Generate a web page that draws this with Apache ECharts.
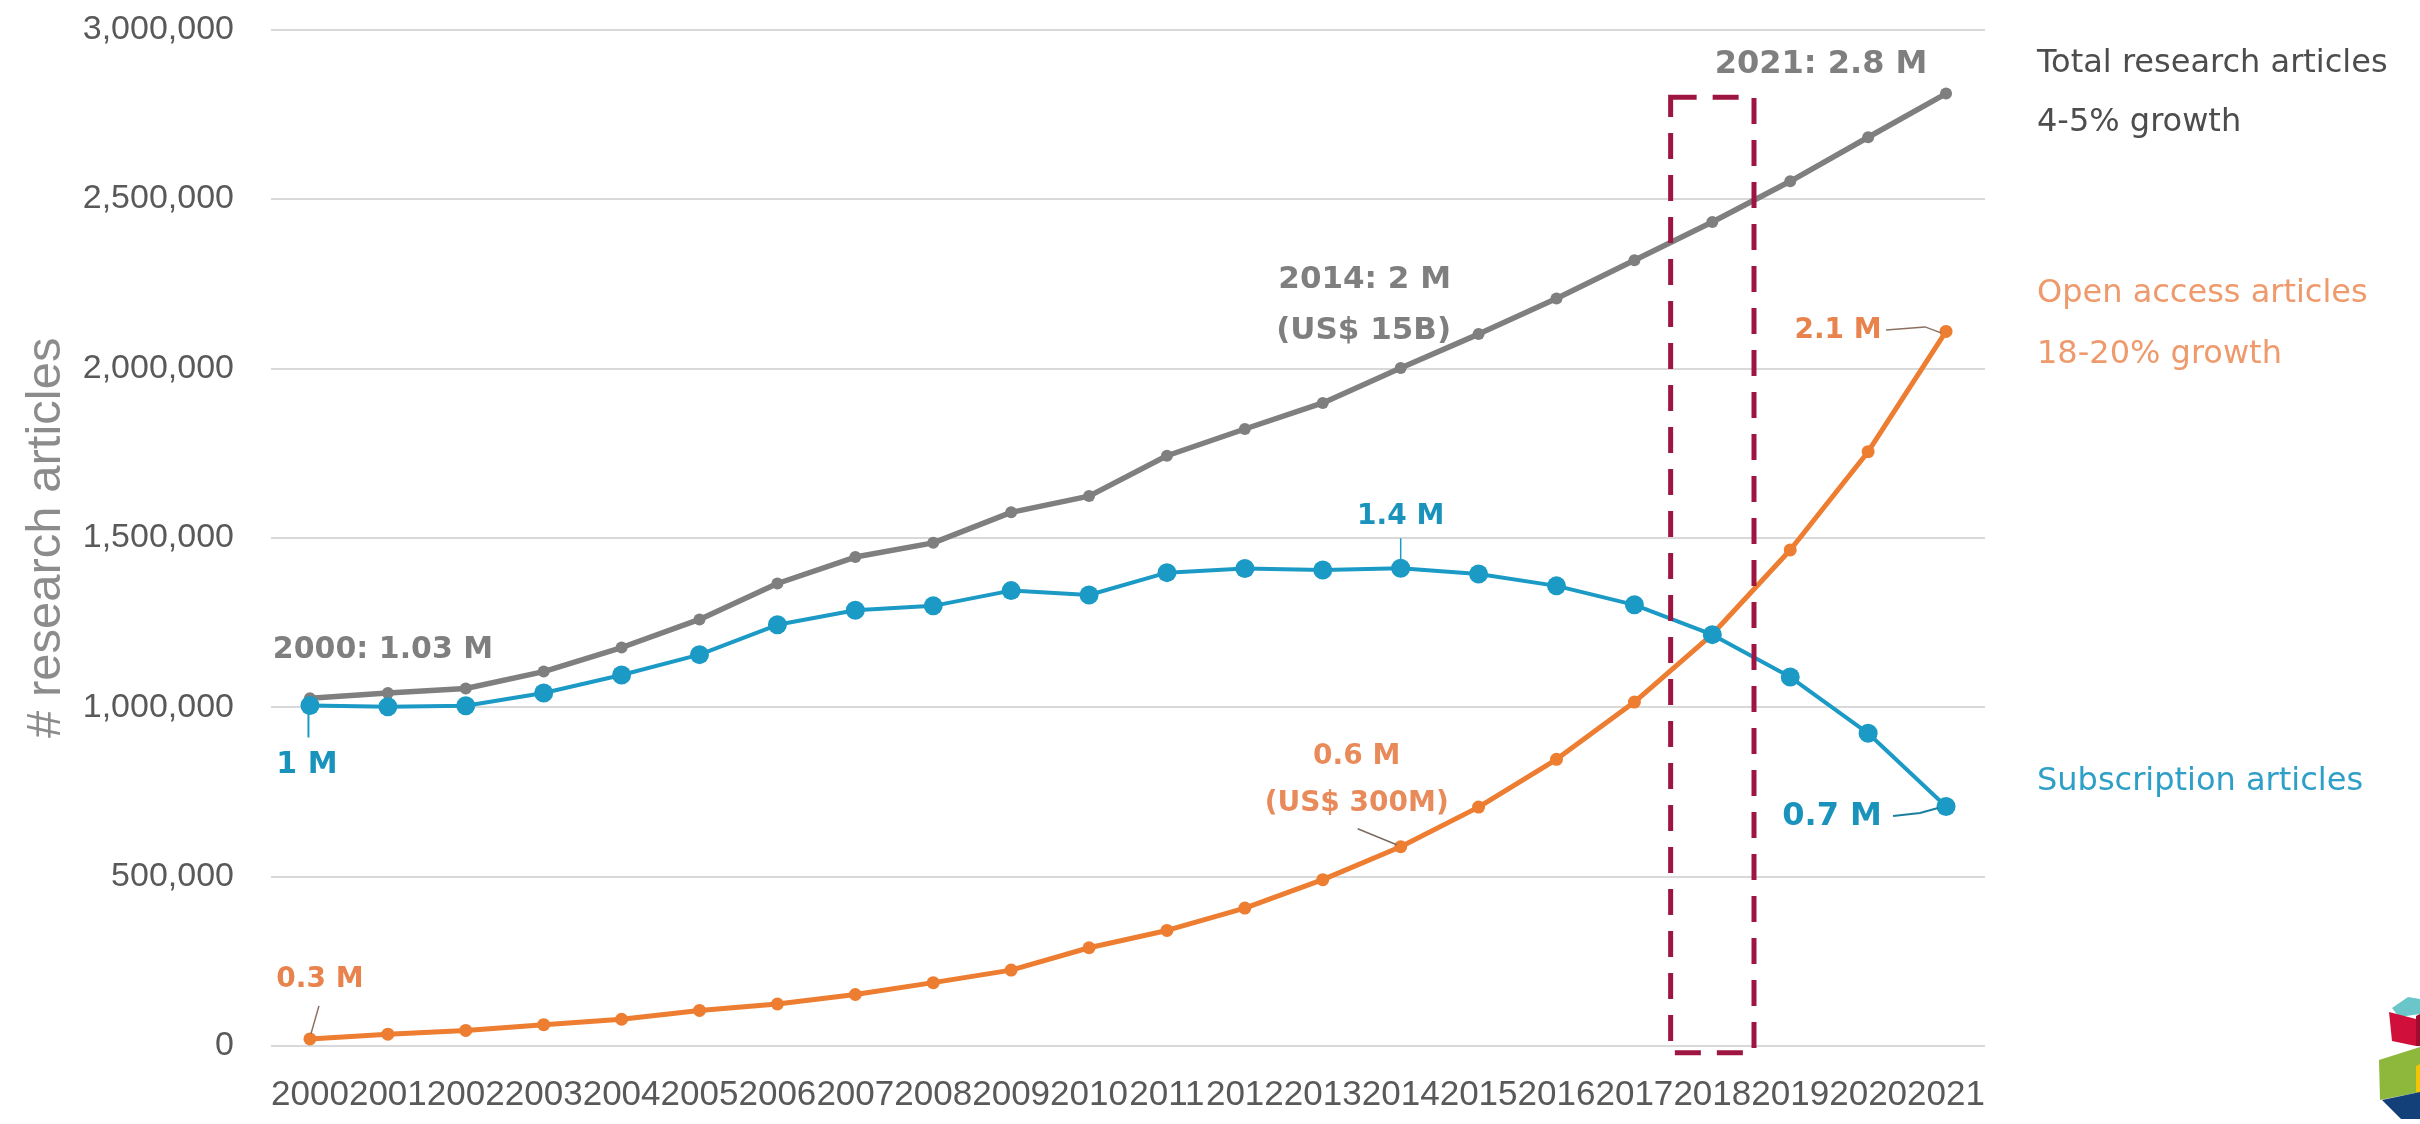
<!DOCTYPE html>
<html>
<head>
<meta charset="utf-8">
<script src="https://cdn.jsdelivr.net/npm/echarts@6/dist/echarts.min.js"></script>
<style>
html,body{margin:0;padding:0;background:#ffffff;}
#chart{width:2420px;height:1124px;}
</style>
</head>
<body>
<div id="chart"></div>
<script>
// ---------- data ----------
const years = ['2000','2001','2002','2003','2004','2005','2006','2007','2008','2009','2010',
               '2011','2012','2013','2014','2015','2016','2017','2018','2019','2020','2021'];
const totalArticles = [1026000,1042000,1055000,1105000,1176000,1259000,1365000,1443000,1485000,1575000,1623000,
                       1742000,1821000,1898000,2001000,2101000,2206000,2319000,2432000,2552000,2682000,2811000];
const subscriptionArticles = [1005000,1001000,1004000,1042000,1095000,1155000,1243000,1286000,1299000,1344000,1331000,
                              1397000,1409000,1405000,1410000,1393000,1358000,1302000,1214000,1089000,923000,707000];
const openAccessArticles = [21000,35000,46000,63000,79000,105000,124000,152000,187000,224000,290000,
                            341000,407000,491000,588000,705000,846000,1015000,1215000,1464000,1754000,2109000];
const yAxisMin = 0;
const yAxisMax = 3000000;
const yAxisStep = 500000;
const highlightYear = '2018';
const highlightTop = 2800000;
const highlightBottom = -20000;

// ---------- styles ----------
const GRAY = '#7f7f7f';
const BLUE = '#1b9ac5';
const ORANGE = '#ed7d31';
const ANN_FONT = 'DejaVu Sans';

const chart = echarts.init(document.getElementById('chart'), null, {renderer: 'canvas'});

const option = {
  animation: false,
  backgroundColor: '#ffffff',
  grid: {left: 271, right: 435, top: 29.5, bottom: 78, containLabel: false},
  xAxis: {
    type: 'category',
    data: years,
    boundaryGap: true,
    axisLine: {show: false},
    axisTick: {show: false},
    splitLine: {show: false},
    axisLabel: {interval: 0, hideOverlap: false, margin: 32, fontFamily: 'Liberation Sans', fontSize: 35, color: '#595959'}
  },
  yAxis: {
    type: 'value',
    min: yAxisMin, max: yAxisMax, interval: yAxisStep,
    axisLine: {show: false},
    axisTick: {show: false},
    splitLine: {lineStyle: {color: '#d9d9d9', width: 2}},
    axisLabel: {margin: 37, fontFamily: 'Liberation Sans', fontSize: 34, color: '#595959',
                formatter: v => v.toLocaleString('en-US')},
    name: '# research articles',
    nameLocation: 'middle',
    nameGap: 200,
    nameTextStyle: {fontFamily: 'Liberation Sans', fontSize: 49, color: '#8c8c8c'}
  },
  series: [
    {name: 'Total', type: 'line', data: totalArticles, symbol: 'circle', symbolSize: 12,
     lineStyle: {color: GRAY, width: 5.5}, itemStyle: {color: GRAY}, z: 2, silent: true},
    {name: 'Open access', type: 'line', data: openAccessArticles, symbol: 'circle', symbolSize: 13,
     lineStyle: {color: ORANGE, width: 5}, itemStyle: {color: ORANGE}, z: 3, silent: true},
    {name: 'Subscription', type: 'line', data: subscriptionArticles, symbol: 'circle', symbolSize: 19,
     lineStyle: {color: BLUE, width: 4}, itemStyle: {color: BLUE}, z: 4, silent: true},
    {name: 'Highlight', type: 'custom', clip: false, z: 6, silent: true,
     data: [[years.indexOf(highlightYear), highlightTop, highlightBottom]],
     encode: {x: 0, y: 1},
     renderItem: function (params, api) {
       const top = api.coord([api.value(0), api.value(1)]);
       const bot = api.coord([api.value(0), api.value(2)]);
       const w = api.size([1, 0])[0] * 1.07;
       return {type: 'rect', shape: {x: top[0] - w / 2, y: top[1], width: w, height: bot[1] - top[1]},
               style: {fill: 'none', stroke: '#9e1541', lineWidth: 5, lineDash: [26, 16]}};
     }}
  ]
};
chart.setOption(option);

// ---------- annotations anchored to data points ----------
function pt(arr, i) { return chart.convertToPixel({xAxisIndex: 0, yAxisIndex: 0}, [i, arr[i]]); }
const last = years.length - 1;
const i2014 = years.indexOf('2014');
const annotations = [
  {arr: totalArticles, i: 0, color: GRAY, size: 30, texts: [['2000: 1.03 M', 73, -48]]},
  {arr: subscriptionArticles, i: 0, color: '#1a93bc', size: 30, texts: [['1 M', -3, 60]],
   leader: [[-1.5, 7], [-1.5, 32]], leaderColor: BLUE, leaderWidth: 2},
  {arr: openAccessArticles, i: 0, color: '#e8834e', size: 28, texts: [['0.3 M', 10, -59]],
   leader: [[9, -33], [1, -5]], leaderColor: '#8a7060', leaderWidth: 1.5},
  {arr: totalArticles, i: i2014, color: GRAY, size: 31, texts: [['2014: 2 M', -36, -88], ['(US$ 15B)', -37, -37]]},
  {arr: subscriptionArticles, i: i2014, color: '#1a93bc', size: 28, texts: [['1.4 M', 0, -52]],
   leader: [[0, -30], [0, -9]], leaderColor: BLUE, leaderWidth: 1.5},
  {arr: openAccessArticles, i: i2014, color: '#e98a5a', size: 28, texts: [['0.6 M', -44, -90], ['(US$ 300M)', -44, -43]],
   leader: [[-43, -18], [-4, -2]], leaderColor: '#7a6a60', leaderWidth: 1.5},
  {arr: totalArticles, i: last, color: GRAY, size: 32, texts: [['2021: 2.8 M', -125, -29]]},
  {arr: openAccessArticles, i: last, color: '#e8834e', size: 28, texts: [['2.1 M', -108, -1]],
   leader: [[-60, -1.5], [-21, -4.5], [-5, 1.5]], leaderColor: '#8a7060', leaderWidth: 1.5},
  {arr: subscriptionArticles, i: last, color: '#1a93bc', size: 32, texts: [['0.7 M', -114, 10.5]],
   leader: [[-53, 9.5], [-26, 6.5], [-8, 1.5]], leaderColor: '#1b7f9e', leaderWidth: 2}
];

const graphics = [];
annotations.forEach(a => {
  const p = pt(a.arr, a.i);
  a.texts.forEach(t => {
    graphics.push({type: 'text', x: p[0] + t[1], y: p[1] + t[2], z: 100, silent: true,
      style: {text: t[0], fill: a.color, fontFamily: ANN_FONT, fontSize: a.size, fontWeight: 'bold',
              align: 'center', verticalAlign: 'middle', textAlign: 'center', textVerticalAlign: 'middle'}});
  });
  if (a.leader) {
    graphics.push({type: 'polyline', z: 100, silent: true,
      shape: {points: a.leader.map(q => [p[0] + q[0], p[1] + q[1]])},
      style: {stroke: a.leaderColor, lineWidth: a.leaderWidth, fill: null}});
  }
});

// ---------- side labels ----------
const sideLabels = [
  ['Total research articles', 64, '#4d4d4d'],
  ['4-5% growth', 123, '#4d4d4d'],
  ['Open access articles', 294, '#ee9a6c'],
  ['18-20% growth', 355, '#ee9a6c'],
  ['Subscription articles', 782, '#2e9fc6']
];
sideLabels.forEach(s => {
  graphics.push({type: 'text', x: 2037, y: s[1], silent: true,
    style: {text: s[0], fill: s[2], fontFamily: ANN_FONT, fontSize: 32,
            align: 'left', verticalAlign: 'middle', textAlign: 'left', textVerticalAlign: 'middle'}});
});

// ---------- corner logo ----------
const logoParts = [
  [[[2392,1008],[2408,997],[2420,999],[2420,1014],[2399,1017]], '#6bc6c9'],
  [[[2389,1012],[2416,1019],[2416,1046],[2392,1041]], '#d0103a'],
  [[[2416,1016],[2420,1014],[2420,1046],[2416,1046]], '#a00c30'],
  [[[2379,1060],[2420,1047],[2420,1092],[2380,1100]], '#8db83c'],
  [[[2416,1066],[2420,1064],[2420,1096],[2416,1097]], '#f2c500'],
  [[[2382,1100],[2420,1092],[2420,1119],[2401,1119]], '#14407a']
];
logoParts.forEach(l => {
  graphics.push({type: 'polygon', silent: true, shape: {points: l[0]}, style: {fill: l[1]}});
});

chart.setOption({graphic: graphics});
</script>
</body>
</html>
